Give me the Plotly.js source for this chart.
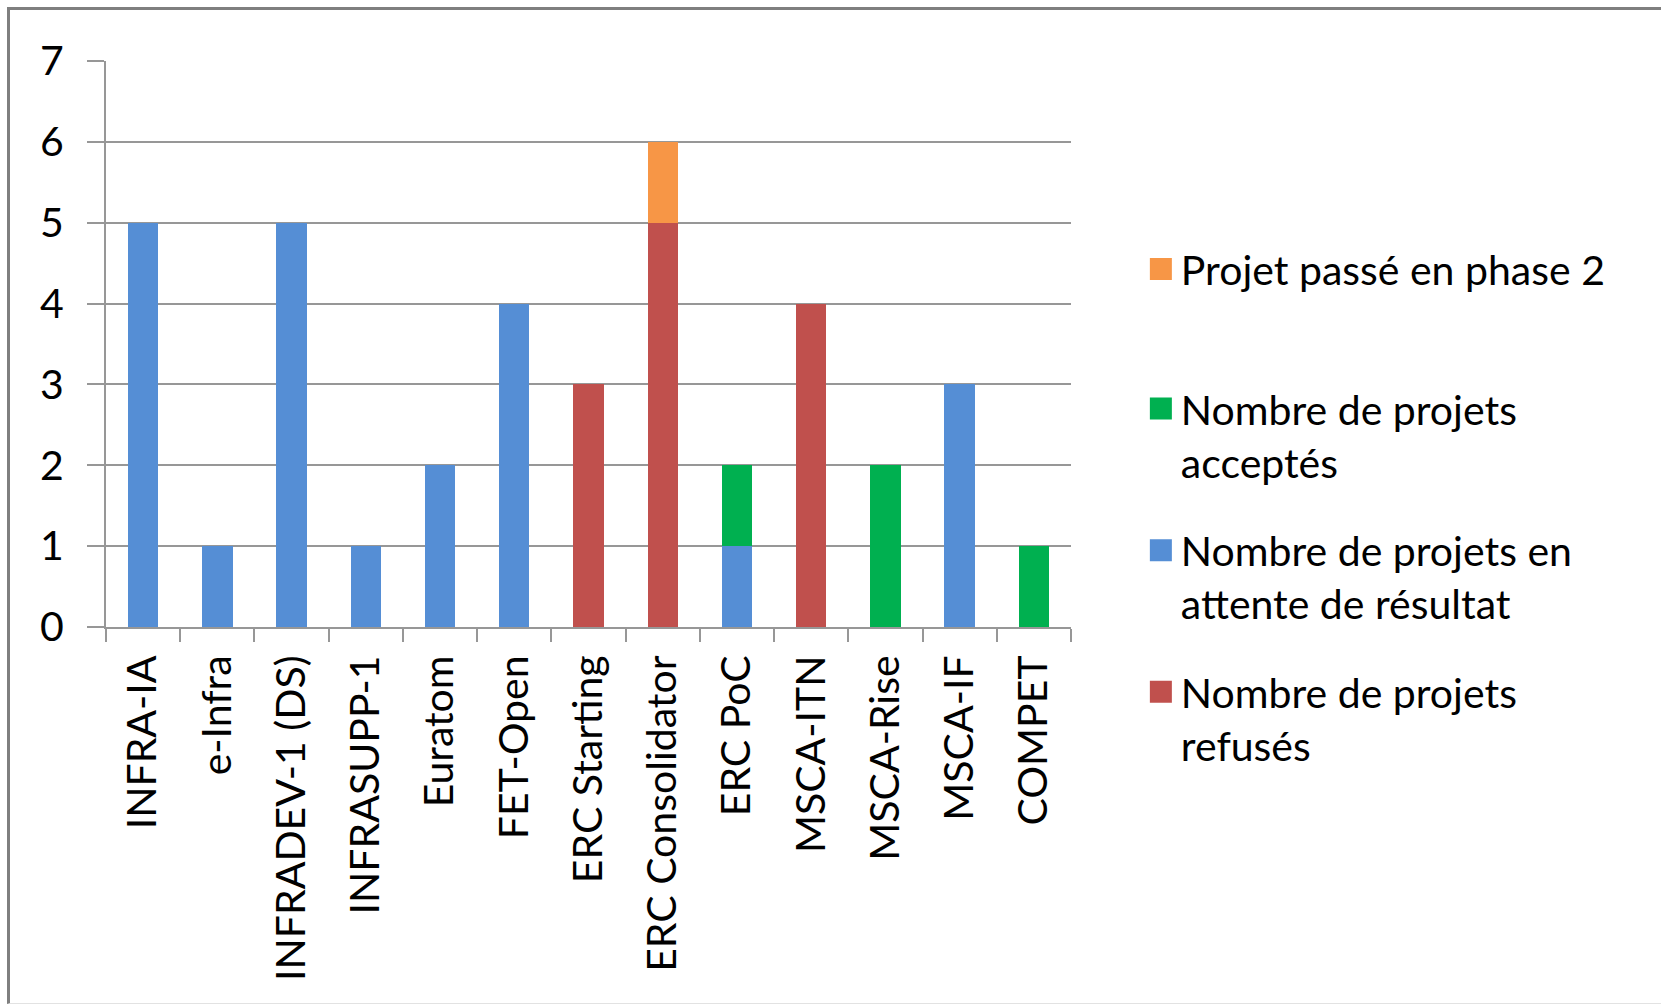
<!DOCTYPE html>
<html>
<head>
<meta charset="utf-8">
<script src="https://cdn.plot.ly/plotly-3.0.1.min.js"></script>
<style>
  html, body { margin: 0; padding: 0; background: #fff; }
  #chart { width: 1661px; height: 1005px; position: relative; }
  #frame {
    position: absolute; left: 7px; top: 7px; right: -10px; bottom: 1px;
    border-top: 3px solid #7f7f7f; border-left: 3px solid #7f7f7f;
    border-bottom: 1px solid #e2e2e2;
    pointer-events: none;
  }
</style>
</head>
<body>
<div id="chart"></div>
<div id="frame"></div>
<script>
const categories = ["INFRA-IA", "e-Infra", "INFRADEV-1 (DS)", "INFRASUPP-1", "Euratom", "FET-Open",
  "ERC Starting", "ERC Consolidator", "ERC PoC", "MSCA-ITN", "MSCA-Rise", "MSCA-IF", "COMPET"];
const refuses   = [0, 0, 0, 0, 0, 0, 3, 5, 0, 4, 0, 0, 0];
const attente   = [5, 1, 5, 1, 2, 4, 0, 0, 1, 0, 0, 3, 0];
const acceptes  = [0, 0, 0, 0, 0, 0, 0, 0, 1, 0, 2, 0, 1];
const phase2    = [0, 0, 0, 0, 0, 0, 0, 1, 0, 0, 0, 0, 0];
const yTicks = [0, 1, 2, 3, 4, 5, 6, 7];

const names = {
  refuses: "Nombre de projets<br>refusés",
  attente: "Nombre de projets en<br>attente de résultat",
  acceptes: "Nombre de projets<br>acceptés",
  phase2: "Projet passé en phase 2"
};

function bar(y, name, color, grp, rank, legendId) {
  return { type: "bar", x: categories, y: y, name: name, legendgroup: grp, legendrank: rank,
    legend: legendId, marker: { color: color, line: { width: 0 } }, hoverinfo: "x+y+name" };
}

const data = [
  bar(refuses, names.refuses, "#C0504D", "r", 3, "legend"),
  bar(attente, names.attente, "#558ED5", "b", 2, "legend"),
  bar(acceptes, names.acceptes, "#00B050", "g", 1, "legend"),
  bar(phase2, names.phase2, "#F79646", "o", 1, "legend2")
];

const gridColor = "#979797";
const fontFamily = "Lato, 'Open Sans', sans-serif";
const legendFont = { family: fontFamily, size: 41, color: "#000" };
const layout = {
  width: 1661, height: 1005,
  margin: { l: 106, r: 590, t: 61, b: 378, pad: 0 },
  paper_bgcolor: "#ffffff", plot_bgcolor: "#ffffff",
  font: { family: fontFamily, size: 41, color: "#000000" },
  barmode: "stack",
  bargap: 0.59,
  showlegend: true,
  legend: {
    x: 1.0724, xanchor: "left", y: 0.4445, yanchor: "top",
    traceorder: "grouped", tracegroupgap: 32, valign: "top",
    font: legendFont, bgcolor: "rgba(0,0,0,0)", borderwidth: 0
  },
  legend2: {
    x: 1.0724, xanchor: "left", y: 0.691, yanchor: "top",
    valign: "top", font: legendFont, bgcolor: "rgba(0,0,0,0)", borderwidth: 0
  },
  xaxis: {
    type: "category", tickangle: -90, showgrid: false, showline: true,
    linecolor: gridColor, linewidth: 2, ticks: "outside", tickson: "boundaries",
    ticklen: 13, tickwidth: 2, tickcolor: gridColor, ticklabelstandoff: 10,
    tickfont: { size: 41 }, zeroline: false, fixedrange: true
  },
  yaxis: {
    range: [0, 7], tickvals: yTicks, ticktext: yTicks.map(String),
    showgrid: true, gridcolor: gridColor, gridwidth: 2,
    showline: true, linecolor: gridColor, linewidth: 2,
    ticks: "outside", ticklen: 17, tickwidth: 2, tickcolor: gridColor,
    ticklabelstandoff: 15, zeroline: false, tickfont: { size: 41 }, fixedrange: true
  }
};

Plotly.newPlot("chart", data, layout, { displayModeBar: false, staticPlot: true }).then(function (gd) {
  // enlarge the legend colour squares to match the reference's swatch size
  gd.querySelectorAll(".legendpoints path").forEach(function (p) {
    p.setAttribute("d", "M11,11H-11V-11H11Z");
  });
});
</script>
</body>
</html>
